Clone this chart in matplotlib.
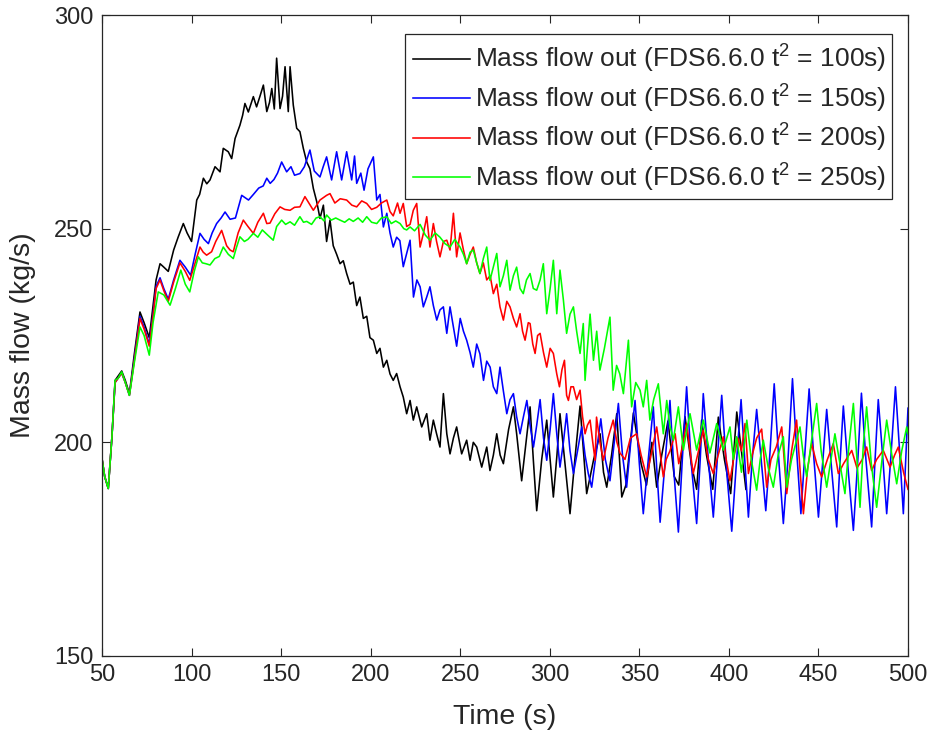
import numpy as np
import matplotlib
matplotlib.use("Agg")
import matplotlib.pyplot as plt
from matplotlib.patches import Rectangle

plt.rcParams['font.family'] = ['Liberation Sans', 'DejaVu Sans']
plt.rcParams['mathtext.fontset'] = 'custom'
plt.rcParams['mathtext.rm'] = 'Liberation Sans'
plt.rcParams['mathtext.default'] = 'regular'

# ---------------- data ----------------
t_black = [50, 51.5, 53.5, 55.5, 57.3, 59, 61, 63, 65.3, 68, 71.2, 73.5, 76.4, 78.5, 80.2, 82.4, 84.5, 87, 90, 92.5,
           95.4, 97.5, 100, 102.9, 104.5, 106.6, 108.5, 110.3, 113.1, 115.9, 117.7, 120.5, 122.4, 124.3, 127, 128.5,
           129.8, 131.7, 134.5, 136.3, 138.2, 140.1, 142, 143.5, 144.8, 146.2, 147.5, 149.4, 150.8, 152.2, 154, 155,
           156.8, 158.7, 160.5, 162.4, 164.3, 166.1, 168, 169.9, 171.7, 173.6, 175.4, 177.3, 179.1, 181, 182.9, 184.7,
           186.6, 188.5, 190.3, 192.2, 194, 195.9, 197.8, 199.6, 201.5, 203.4, 205.2, 207.1, 209, 210.8, 212.6, 214.5,
           216.4, 218.2, 220.1, 222, 223.8, 225.7, 228.5, 231.3, 233.1, 235, 236.8, 238.7, 240.6, 242.5, 244.3, 246.2,
           248, 250.8, 253.6, 255.5, 257.3, 259.2, 262, 264.8, 266.6, 268.5, 270.4, 272.3, 274.1, 277, 279.7, 281.5,
           284.3, 286.5, 289, 290.8, 292.7, 295.5, 298.3, 300.2, 302, 304, 305.7, 308.5, 311.3, 314, 316.9, 318.8,
           320.6, 324.5, 328.1, 330, 331.8, 334.5, 337.4, 340.2, 342.5, 346.7, 351, 354, 357, 359.7, 362.5, 366,
           369.5, 372, 375.5, 379, 382, 384.8, 387.5, 391, 394.1, 397.5, 401, 404.4, 407, 409.5]
v_black = [196.2, 192, 189.2, 201, 214.5, 215.5, 216.7, 214.5, 211.4, 220.5, 230.5, 228, 224.5, 232, 238, 241.8, 241, 240,
           245, 248, 251.2, 249, 247, 256.7, 258, 261.8, 260.5, 261.4, 264.5, 263.3, 268.8, 268, 266.4, 271.1, 274.2,
           276.5, 279.3, 277.3, 280.9, 278.5, 281, 283.6, 277.4, 279.5, 282.8, 278, 289.9, 278.1, 281, 287.9, 277.4,
           287.9, 278.9, 273.5, 272.7, 268.8, 265.6, 264, 259.4, 256.3, 252.4, 255.5, 247, 252, 246, 244, 241.8, 242.5,
           239.5, 237, 237.5, 232, 234, 229, 229.5, 224.5, 223.9, 220.8, 222, 217.6, 219.2, 216, 214.5, 216.1, 213,
           210.6, 206.7, 209.8, 205.2, 208.3, 203.6, 206.7, 200.5, 205.2, 202, 198.9, 211.4, 202, 197.3, 201, 203.6,
           197.3, 200.5, 195.8, 200, 198.9, 194.2, 198.9, 193.4, 197, 202, 197, 195, 203, 208.3, 202, 191, 199, 208.3,
           196, 184, 196, 205.2, 196, 187.2, 197, 206.7, 195, 183.3, 196, 208.5, 198, 188, 196, 202, 193, 189.5, 197,
           206.7, 187.2, 190, 206.9, 195, 190, 200, 189.5, 197, 205, 192, 190, 206, 195, 189, 205.2, 197, 189, 205.9,
           196, 188, 207.1, 198, 189]

t_blue = [50, 51.5, 53.5, 55.5, 57.3, 59, 61, 63, 65.3, 68, 71.2, 73.5, 76.4, 78.5, 80.2, 82.4, 84.5, 87, 90, 93.5, 96.5,
          99.5, 102, 104.7, 107, 109.4, 111.5, 114, 116.5, 118.7, 121.5, 124.5, 128, 131.8, 134.5, 137.5, 140, 142,
          143.9, 146, 148, 150.3, 153.1, 155.5, 157.5, 160.5, 163, 166.1, 168.5, 171.7, 173.5, 175.4, 178.2, 181,
          183.8, 186.6, 189.4, 191, 192.2, 194.5, 196.3, 198.5, 201.5, 203.4, 205.2, 207.1, 209, 210.8, 212.6, 214.5,
          216.3, 218.2, 220, 222, 223.9, 225.8, 227.6, 229.4, 231.3, 233.1, 235, 236.9, 238.7, 240.6, 242.5, 244.3,
          246.2, 248, 250, 251.8, 253.6, 255.5, 257.3, 259.2, 261, 263, 264.8, 266.7, 268.5, 270.4, 272.2, 274.1, 276,
          277.8, 279.7, 281.5, 283.4, 285.3, 287.2, 289, 290.9, 292.7, 294.6, 296.5, 298.3, 300.2, 302, 303.9, 305.7,
          307.6, 309.4, 311.3, 313.2, 315.5, 317.8, 319.7, 321.5, 323.4, 325.8, 328.5, 331, 333.6, 336, 338.3, 340.6,
          342.9, 345.2, 347.6, 350, 352.2, 355, 357.8, 359.7, 361.6, 364.5, 367.1, 369.5, 371.8, 374, 376.4, 379, 382,
          384, 385.7, 388.5, 391.3, 393.5, 396, 399, 401.6, 404, 406.8, 409, 410.9, 413, 415.5, 418, 420.6, 423, 425.3,
          428, 430.4, 433, 435.5, 438, 440.2, 442.5, 444.8, 447.5, 450, 452.5, 454.6, 457.5, 460.2, 462, 463.9, 466.5,
          469.5, 472, 474, 476.5, 479.7, 481.5, 483.4, 486, 488.1, 490.5, 493, 495.3, 497.4, 500]
v_blue = [196.2, 192, 189.2, 201, 214, 215, 216.2, 214, 211, 219.5, 229.5, 227, 223, 230, 236.5, 238.5, 236, 233.5, 238,
          242.6, 241, 239.1, 244, 248.9, 247.5, 246.5, 249, 251.2, 252.5, 253.9, 252.2, 252.5, 257.8, 256.7, 258, 259.5,
          260, 261.8, 260.6, 261.5, 263, 265.6, 263.3, 264.5, 262.5, 262.9, 264.5, 268.4, 263.5, 262.1, 264.5, 266.8,
          261.4, 268, 261.4, 268, 261.4, 267, 260.6, 263, 259, 264, 266.8, 256.7, 258, 250.4, 253.6, 249, 245.7, 248,
          247.2, 241.1, 244, 247.3, 234, 238, 236.4, 231.7, 234, 236.4, 232, 228.6, 231, 231.7, 225.5, 231.7, 227,
          222.5, 229, 226, 223.9, 221, 217.6, 223, 220.7, 214.5, 219, 217.6, 213, 211.4, 217.6, 212, 206.7, 210, 211.4,
          206, 202, 206, 209.8, 204, 198.9, 204, 210, 201, 195.8, 203, 211.4, 202, 194.2, 200, 206.7, 198, 192.7, 198,
          203.6, 197, 192.7, 189.5, 197, 205.5, 196, 191, 200, 209.1, 197, 189.5, 200, 209.8, 195, 183.3, 196, 208.3,
          194, 181.3, 196, 209.8, 192, 179, 196, 213, 195, 181, 196, 211.4, 196, 182.5, 196, 211, 192, 179.2, 194, 210,
          195, 182.5, 196, 207.7, 196, 184, 198, 213.7, 195, 181, 196, 214.9, 197, 183.3, 198, 212.5, 196, 182.5, 196,
          207.7, 193, 180.2, 195, 208.5, 194, 179.4, 196, 211.5, 196, 180.2, 195, 210, 196, 183.3, 197, 213, 198,
          183.3, 208]

t_red = [50, 51.5, 53.5, 55.5, 57.3, 59, 61, 63, 65.3, 68, 71.2, 73.5, 76.4, 78.5, 80.2, 82.4, 84.5, 87, 90, 93.5, 96.5,
         99, 102, 104.7, 106.5, 108.4, 111.2, 113.5, 116.8, 119.6, 121.5, 123.3, 126, 128.9, 131.5, 134.5, 137, 140.1,
         142, 143.8, 146.5, 149.4, 152, 155, 157.5, 160.5, 163.3, 165.5, 168, 171.7, 175.4, 177.3, 180, 183, 186.6,
         189.5, 192.2, 195, 197.8, 200.5, 203.4, 206, 209, 210.8, 212.6, 215, 216.4, 218.2, 220.1, 222, 223.8, 225.7,
         227.6, 229.5, 231.3, 233.1, 235, 236.8, 238.7, 240.6, 242.5, 244.3, 246.2, 248, 249.9, 251.8, 253.6, 255.5,
         257.3, 259.2, 261, 262.9, 264.8, 266.7, 268.5, 270.4, 272.2, 274.1, 276, 277.8, 279.7, 281.5, 283.4, 284.8,
         286.2, 288, 289, 290.5, 291.8, 293.2, 294.6, 296.5, 298.3, 300.2, 302, 303.9, 305.4, 306.8, 308.2, 309.4,
         310.4, 311.8, 313.2, 315, 316.9, 318.3, 319.7, 321, 322.5, 324, 325.3, 326.1, 328, 329.9, 332.5, 335.4, 337.5,
         339.2, 342, 345, 348.5, 351, 354.1, 357, 359.7, 361.5, 363.4, 365, 367.1, 370, 372, 374, 376.4, 378, 380.1,
         382.5, 385.7, 388.5, 391.3, 394, 396.9, 398.5, 400.6, 403, 405, 407, 409, 410.9, 413, 415.5, 418.3, 421.1,
         423.5, 426.5, 429.5, 432.3, 435, 437.8, 440, 441.6, 444, 446.2, 449, 451.8, 455, 458.3, 461.1, 464, 468.6,
         471.5, 474.5, 476.9, 479.7, 482.5, 486.2, 490, 492.5, 494.6, 497.5, 500]
v_red = [196.2, 192, 189.2, 201, 214, 215, 216.2, 214, 211, 219, 229, 226.5, 222.5, 229.5, 236, 238, 235.5, 233, 237.5,
         242, 240, 237.9, 242, 245.7, 244.5, 243.8, 244.6, 247, 249.6, 246, 245, 244.6, 249, 252, 250.5, 248.9, 251.5,
         253.6, 251.2, 251.3, 253.5, 255.1, 254.5, 254.3, 255, 255.1, 257.5, 256, 254.3, 256.7, 257.8, 258.2, 256, 257,
         256.7, 255.5, 255.1, 256.5, 255.9, 254.5, 255, 256, 256.7, 254, 253, 256, 253.6, 255.9, 250.5, 251, 254.3,
         255.9, 245.7, 249, 252.8, 245.7, 251.2, 247, 243.4, 247, 247.3, 245, 253.6, 243.4, 249, 245, 241.8, 244,
         245.7, 242, 239.5, 242, 238, 239, 234.8, 237, 231.7, 228.6, 233, 231.7, 229, 227, 230.1, 226, 223.9, 228,
         227.8, 223, 220.8, 225, 225.5, 221, 217.6, 222, 220.8, 216, 213, 217, 219.2, 211, 209.8, 213, 213, 210, 212.2,
         206, 202, 204, 205.2, 200, 195.8, 205.9, 200, 195.8, 201, 205.2, 200, 197.5, 196, 201, 202, 197, 191.9, 198,
         203.6, 198, 191.9, 196, 198, 202, 195, 199, 204.4, 199, 192.7, 197, 202.8, 196, 192.7, 197, 201.3, 196, 191,
         197, 201, 198, 204.4, 192.7, 197, 201, 203.1, 189.5, 196, 199, 203.6, 188, 198, 205.2, 192, 183.3, 194, 199.7,
         195, 191.9, 196, 199.7, 192.7, 195, 198.1, 194, 196, 198.9, 193.4, 196, 198.1, 194.2, 197, 198.9, 193, 189]

t_green = [50, 51.5, 53.5, 55.5, 57.3, 59, 61, 63, 65.3, 68, 71.2, 73.5, 76.4, 78.5, 81.4, 84.5, 88, 91, 94, 96.5, 99,
           101.5, 103.8, 106, 108, 110.3, 113, 115.5, 117.7, 120.5, 123.3, 125, 127, 129.5, 131.5, 134.5, 137, 139.5,
           142.5, 145.6, 147.5, 150.3, 152.5, 155, 157.5, 160.5, 162.5, 164.3, 167, 169.5, 171.7, 174, 175.4, 178,
           180.5, 182.9, 185.5, 188, 190.3, 193, 195.5, 197.8, 200.5, 203.4, 206, 209, 211.5, 214, 216.4, 218.5, 220.1,
           222, 224.5, 227.6, 230.5, 233.1, 236, 238.7, 241.5, 244.3, 247, 249.9, 251.8, 253.6, 255.5, 257.3, 259.2,
           261, 262.9, 264.8, 266.6, 268.5, 270.4, 272.2, 274.1, 276, 277.8, 279.7, 281.5, 283.4, 285.2, 287, 289,
           290.8, 292.7, 294.6, 296.4, 298.3, 300.2, 302, 303.9, 305.7, 307.6, 309.4, 311.3, 313.2, 315, 316.9, 318.7,
           319.7, 321, 322.5, 324.4, 326.2, 328, 330.5, 333.6, 335.4, 337.3, 339.1, 341.1, 343.9, 345.7, 348, 350.4,
           352.2, 354.1, 355.9, 358, 360.6, 363.4, 365.3, 367, 369, 371.8, 374.6, 376.5, 378.3, 382, 385.7, 389.4,
           393.2, 396.9, 400.6, 402.5, 404.3, 407, 410, 412.5, 415.5, 417.5, 419.2, 422, 424.8, 427.5, 430.4, 432.3,
           435, 437.5, 439.7, 441.5, 443.4, 446, 449, 451.5, 454.6, 457, 459.2, 462, 464.8, 467, 469.5, 471.5, 473.2,
           475, 476.9, 479.5, 482.5, 485.5, 488.1, 491, 493.7, 496.5, 499.3, 500]
v_green = [196.2, 192, 189.2, 201, 214.5, 215, 216.5, 214, 211, 218.5, 227, 225, 220.4, 228, 235.2, 234.5, 232.1, 236,
           240.3, 237, 235.2, 240, 243.4, 242, 241.8, 241.5, 243, 243.5, 245.7, 244, 243, 245.5, 248.1, 247, 247.5,
           248.9, 248, 249.7, 248.5, 247.3, 250.5, 252, 251, 251.6, 250.8, 252.8, 251.5, 251.7, 251, 252.5, 252.8,
           251.8, 253.2, 252, 252.5, 252, 251.5, 252.3, 251.7, 252.5, 251.5, 252.8, 251.5, 251.2, 252.5, 252.8, 251.2,
           251.8, 251.2, 250, 249.7, 250.4, 249.5, 251, 248.5, 247.3, 249, 248, 246.5, 245.7, 247.5, 245.7, 244, 241.8,
           244.5, 245, 242, 239.5, 243, 245.7, 237.9, 241, 244.2, 236.4, 239, 242.6, 235.6, 239, 241, 236, 234.8, 238,
           239.5, 236, 235.6, 238, 241.8, 230.1, 236, 242.6, 230.1, 240.3, 233.3, 225.5, 230, 231.7, 226, 220.8, 227.8,
           214.5, 222, 230, 219.2, 226, 216.9, 222, 229.3, 212.2, 218, 216, 211.4, 223.9, 208.3, 214, 212.2, 208.3,
           214.5, 205.2, 210, 213.7, 202, 209.8, 204, 200.5, 208.3, 198.2, 203, 206.7, 198.2, 205.2, 197.5, 204.4,
           198.2, 203.6, 196, 201.3, 193, 205.2, 196, 188.8, 196, 200.5, 194, 189.5, 197, 201.3, 189.5, 196, 200, 203.6,
           197, 192, 200, 209.1, 198, 189.5, 196, 202, 195, 188, 199, 209.1, 196, 184.8, 199, 208.3, 195, 184.8, 196,
           205.2, 197, 190.3, 198, 203.6, 202]

series_labels = ['Mass flow out (FDS6.6.0 t$^2$ = 100s)',
                 'Mass flow out (FDS6.6.0 t$^2$ = 150s)',
                 'Mass flow out (FDS6.6.0 t$^2$ = 200s)',
                 'Mass flow out (FDS6.6.0 t$^2$ = 250s)']
series_colors = ['#000000', '#0000ff', '#ff0000', '#00ff00']
x_ticks = [50, 100, 150, 200, 250, 300, 350, 400, 450, 500]
y_ticks = [150, 200, 250, 300]

# ---------------- figure ----------------
W, H = 935, 734
fig = plt.figure(figsize=(W / 100, H / 100), dpi=100)
ax = fig.add_axes([102 / W, 1 - 656 / H, (908 - 102) / W, (656 - 15) / H])

data = [(t_black, v_black), (t_blue, v_blue), (t_red, v_red), (t_green, v_green)]
for (t, v), c, lab in zip(data, series_colors, series_labels):
    ax.plot(t, v, color=c, lw=1.15, label=lab)

ax.set_xlim(50, 500)
ax.set_ylim(150, 300)
ax.set_xticks(x_ticks)
ax.set_yticks(y_ticks)
gray = '#262626'
ax.tick_params(direction='in', top=True, right=True, length=6, width=0.8,
               colors=gray, labelsize=17, pad=6)
for s in ax.spines.values():
    s.set_color(gray)
    s.set_linewidth(0.9)
ax.set_xlabel('Time (s)', fontsize=20.5, color=gray, labelpad=13)
ax.set_ylabel('Mass flow (kg/s)', fontsize=20.5, color=gray, labelpad=13)

# legend frame drawn as a box behind the entries so the rows sit like MATLAB's
frame = Rectangle((405 / W, 1 - 199 / H), (892 - 405) / W, (199 - 34) / H,
                  transform=fig.transFigure, facecolor='white', edgecolor=gray,
                  linewidth=0.9, zorder=4, clip_on=False)
ax.add_patch(frame)
leg = ax.legend(loc='upper right', bbox_to_anchor=(886 / W, 1 - 43 / H),
                bbox_transform=fig.transFigure, borderaxespad=0,
                fontsize=19, handlelength=2.15, handletextpad=0.2,
                labelspacing=0.28, borderpad=0.0, frameon=False)
leg.set_zorder(6)
for txt in leg.get_texts():
    txt.set_color(gray)

fig.savefig('out.png', dpi=100)
